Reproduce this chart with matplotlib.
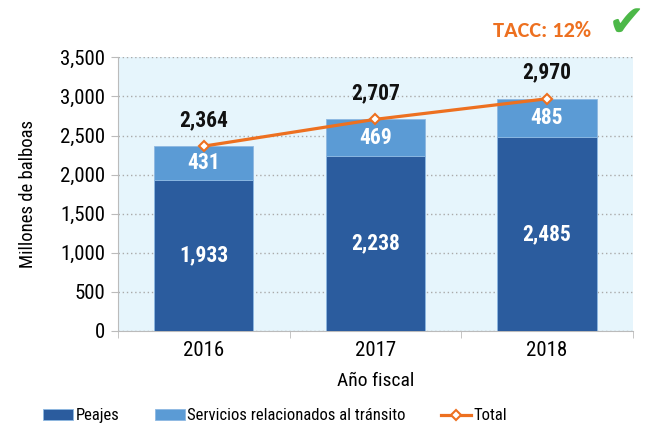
import numpy as np
import matplotlib
matplotlib.use('Agg')
from matplotlib import pyplot as plt
from matplotlib.ticker import FuncFormatter, FixedLocator

plt.rcParams['font.family'] = ['Roboto Condensed', 'DejaVu Sans']

# datos
anios = ['2016', '2017', '2018']
peajes = [1933, 2238, 2485]
servicios = [431, 469, 485]
total = [2364, 2707, 2970]

c_peajes = '#2B5C9E'
c_serv = '#5B9BD5'
c_total = '#ED7020'

fig = plt.figure(figsize=(6.55, 4.33), dpi=100)
ax = fig.add_axes([0.180, 0.2356, 0.786, 0.632])
ax.set_facecolor('#E6F5FC')

x = np.arange(len(anios))
w = 0.58
b1 = ax.bar(x, peajes, w, color=c_peajes, edgecolor='#8DB8E2', lw=0.6,
            label='Peajes', zorder=3)
b2 = ax.bar(x, servicios, w, bottom=peajes, color=c_serv, edgecolor='#8DB8E2',
            lw=0.6, label='Servicios relacionados al tránsito', zorder=3)
ln, = ax.plot(x, total, color=c_total, lw=2.3, marker='D', ms=5,
              mfc='white', mec=c_total, mew=1.5, label='Total', zorder=4)

# etiquetas de segmentos
for i in range(len(anios)):
    ax.text(x[i], peajes[i] / 2, '{:,}'.format(peajes[i]), ha='center', va='center',
            color='white', fontsize=15.5, fontweight='bold', zorder=5)
    ax.text(x[i], peajes[i] + servicios[i] / 2, '{:,}'.format(servicios[i]),
            ha='center', va='center', color='white', fontsize=15.5,
            fontweight='bold', zorder=5)
    ax.annotate('{:,}'.format(total[i]), (x[i], total[i]), xytext=(0, 11),
                textcoords='offset points', ha='center', va='bottom',
                fontsize=15.5, fontweight='bold', color='#111111', zorder=5)

ax.set_xlim(-0.5, 2.5)
ax.set_ylim(0, 3500)
ax.set_yticks(np.arange(0, 3501, 500))
ax.yaxis.set_major_formatter(FuncFormatter(lambda v, p: '{:,}'.format(int(v))))
ax.set_xticks(x)
ax.set_xticklabels(anios)
ax.xaxis.set_minor_locator(FixedLocator([-0.5, 0.5, 1.5, 2.5]))
ax.tick_params(axis='x', which='major', length=0, labelsize=15, pad=7)
ax.tick_params(axis='x', which='minor', length=5, color='#BBBBBB')
ax.tick_params(axis='y', length=5, color='#BBBBBB', labelsize=15, pad=4)

ax.grid(axis='y', linestyle=(0, (1, 2)), color='#AAAAAA', lw=1, zorder=1)
for s in ['top', 'right']:
    ax.spines[s].set_visible(False)
for s in ['left', 'bottom']:
    ax.spines[s].set_color('#BBBBBB')

ax.set_ylabel('Millones de balboas', fontsize=13.5, labelpad=17)
ax.set_xlabel('Año fiscal', fontsize=14, labelpad=9)

fig.legend(handles=[b1, b2, ln], loc='center', bbox_to_anchor=(0.42, 0.04),
           ncol=3, frameon=False, fontsize=12, handlelength=1.8,
           handleheight=0.6, handletextpad=0.15, columnspacing=2.1)

fig.text(0.902, 0.928, 'TACC: 12%', ha='right', va='center', color=c_total,
         fontsize=16, fontweight='bold', family='Carlito')
fig.text(0.957, 0.945, '✔', ha='center', va='center', color='#4CB848',
         fontsize=32, family='DejaVu Sans')

fig.savefig('out.png', dpi=100)
